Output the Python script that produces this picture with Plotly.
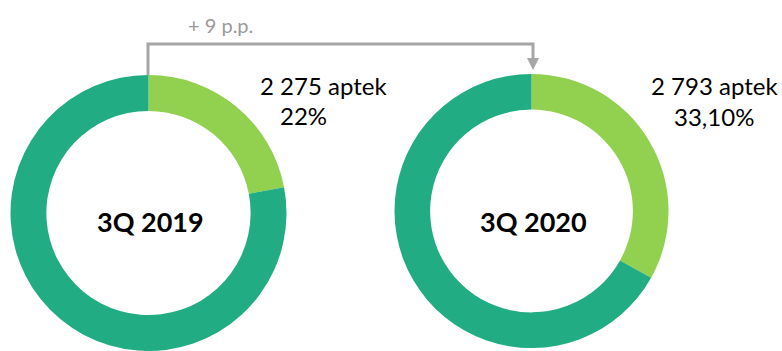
import plotly.graph_objects as go

W, H = 782, 351

periods = ["3Q 2019", "3Q 2020"]
slice_names = ["Apteki w programie", "Pozostałe apteki"]
share_in_program = [22.0, 33.1]
share_labels = ["22%", "33,10%"]
pharmacy_counts = ["2 275 aptek", "2 793 aptek"]
change_label = "+ 9 p.p."

LIGHT = "#92D050"
DARK = "#21AC84"
GRAY = "#A6A6A6"
FONT = "Lato"

# pixel geometry of donuts: (center_x, center_y_from_top, radius)
geo = [(148.5, 213, 138), (531.5, 211, 137)]

fig = go.Figure()
for i, (cx, cy, r) in enumerate(geo):
    vals = [share_in_program[i], 100 - share_in_program[i]]
    fig.add_trace(go.Pie(
        values=vals, labels=slice_names, sort=False, direction="clockwise", rotation=0,
        hole=0.74, marker=dict(colors=[LIGHT, DARK], line=dict(width=0)),
        textinfo="none", hoverinfo="label+percent", showlegend=False,
        domain=dict(x=[(cx - r) / W, (cx + r) / W],
                    y=[max(0, (H - cy - r) / H), min(1, (H - cy + r) / H)]),
    ))

def px(x):
    return x / W

def py(y):
    return 1 - y / H

ann = []
# center labels
for i, (cx, cy, r) in enumerate(geo):
    ann.append(dict(x=px(cx + 2), y=py(221), text="<b>%s</b>" % periods[i], showarrow=False,
                    xanchor="center", yanchor="middle",
                    font=dict(family=FONT, size=27, color="#000000")))
# side labels
label_pos = [((323, 86), (303, 115)), ((714, 86), (714, 117))]
for i, ((x1, y1), (x2, y2)) in enumerate(label_pos):
    ann.append(dict(x=px(x1), y=py(y1), text=pharmacy_counts[i], showarrow=False,
                    xanchor="center", yanchor="middle",
                    font=dict(family=FONT, size=24, color="#000000")))
    ann.append(dict(x=px(x2), y=py(y2), text=share_labels[i], showarrow=False,
                    xanchor="center", yanchor="middle",
                    font=dict(family=FONT, size=24, color="#000000")))
ann.append(dict(x=px(221), y=py(25), text=change_label, showarrow=False,
                xanchor="center", yanchor="middle",
                font=dict(family=FONT, size=20, color="#9A9A9A")))

shapes = [
    dict(type="path", xref="paper", yref="paper",
         path="M %f %f L %f %f L %f %f L %f %f" % (px(148), py(75), px(148), py(44),
                                                  px(533), py(44), px(533), py(60)),
         line=dict(color=GRAY, width=3)),
    dict(type="path", xref="paper", yref="paper",
         path="M %f %f L %f %f L %f %f Z" % (px(527), py(58), px(539), py(58), px(533), py(70)),
         fillcolor=GRAY, line=dict(color=GRAY, width=0)),
]

fig.update_layout(
    width=W, height=H, margin=dict(l=0, r=0, t=0, b=0),
    paper_bgcolor="white", plot_bgcolor="white",
    annotations=ann, shapes=shapes,
)

fig.write_html("out.html")
